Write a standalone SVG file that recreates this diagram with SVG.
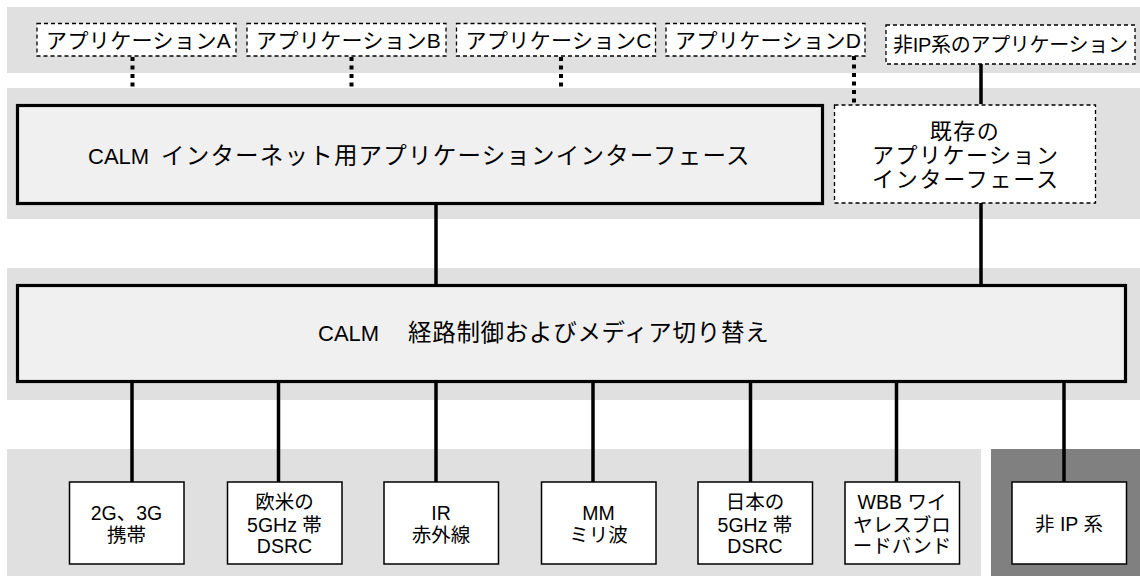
<svg xmlns="http://www.w3.org/2000/svg" width="1140" height="576" viewBox="0 0 1140 576">
<style>
text{font-family:"Liberation Sans","Noto Sans CJK JP",sans-serif;fill:#000}
.band{fill:#e0e0e0}
.dark{fill:#808080}
.app{fill:#fff;stroke:#000;stroke-width:1.3;stroke-dasharray:4 3}
.calm{fill:#f0f0f0;stroke:#000;stroke-width:3.2}
.media{fill:#fff;stroke:#000;stroke-width:1.5}
.solid{stroke:#000;stroke-width:3.5;fill:none}
.dot{stroke:#000;stroke-width:4;stroke-dasharray:4 4.5;fill:none}
.ta{font-size:21px;letter-spacing:0.4px}
.tn{font-size:20px}
.tc{font-size:23.5px}
.lat{font-size:22px}
.tl{font-size:22px}
.tb{font-size:19.5px;text-anchor:middle}
</style>
<g id="bands">
<rect class="band" x="7" y="7" width="1133" height="66"/>
<rect class="band" x="7" y="88" width="1133" height="131"/>
<rect class="band" x="7" y="268" width="1133" height="132"/>
<rect class="band" x="7" y="449" width="974" height="127"/>
<rect class="dark" x="991" y="449" width="149" height="127"/>
</g>
<g id="connectors">
<line class="dot" x1="132.5" y1="57" x2="132.5" y2="88"/>
<line class="dot" x1="351.5" y1="57" x2="351.5" y2="88"/>
<line class="dot" x1="561" y1="57" x2="561" y2="88"/>
<line class="dot" x1="854" y1="56" x2="854" y2="104"/>
<line class="solid" x1="981" y1="64" x2="981" y2="104"/>
<line class="solid" x1="981" y1="203" x2="981" y2="285"/>
<line class="solid" x1="436" y1="205" x2="436" y2="285"/>
<line class="solid" x1="132" y1="382" x2="132" y2="482"/>
<line class="solid" x1="278.5" y1="382" x2="278.5" y2="482"/>
<line class="solid" x1="436" y1="382" x2="436" y2="482"/>
<line class="solid" x1="593" y1="382" x2="593" y2="482"/>
<line class="solid" x1="750.5" y1="382" x2="750.5" y2="482"/>
<line class="solid" x1="896.5" y1="382" x2="896.5" y2="482"/>
<line class="solid" x1="1064" y1="382" x2="1064" y2="482"/>
</g>
<g id="appA"><rect class="app" x="37" y="23.5" width="199" height="32.5"/><text class="ta" x="46" y="48">アプリケーションA</text></g>
<g id="appB"><rect class="app" x="247" y="23.5" width="199" height="32.5"/><text class="ta" x="256" y="48">アプリケーションB</text></g>
<g id="appC"><rect class="app" x="456.5" y="23.5" width="199" height="32.5"/><text class="ta" x="465.5" y="48">アプリケーションC</text></g>
<g id="appD"><rect class="app" x="666" y="23.5" width="199" height="32.5"/><text class="ta" x="675" y="48">アプリケーションD</text></g>
<g id="appNonIP"><rect class="app" x="886" y="25" width="249" height="39"/><text class="tn" x="893" y="52" textLength="235">非IP系のアプリケーション</text></g>
<g id="calmInternet"><rect class="calm" x="17.5" y="105.5" width="805" height="98"/><text x="88" y="164"><tspan class="lat">CALM </tspan><tspan class="tc" x="161" letter-spacing="1.2">インターネット用アプリケーションインターフェース</tspan></text></g>
<g id="legacyIf"><rect class="app" x="834.5" y="105" width="261" height="98"/>
<text class="tl" x="965" y="139" text-anchor="middle" letter-spacing="1.5">既存の</text>
<text class="tl" x="872" y="163" textLength="186">アプリケーション</text>
<text class="tl" x="872" y="187" textLength="186">インターフェース</text></g>
<g id="calmRouting"><rect class="calm" x="17.5" y="285.5" width="1108" height="96"/><text x="318" y="341"><tspan class="lat">CALM</tspan><tspan class="tc" x="408" letter-spacing="0.7">経路制御およびメディア切り替え</tspan></text></g>
<g id="m2g"><rect class="media" x="69.5" y="482" width="114.5" height="82"/><text class="tb" x="126.5" y="520">2G、3G</text><text class="tb" x="126.5" y="542">携帯</text></g>
<g id="mEU"><rect class="media" x="227.5" y="482" width="114.5" height="82"/><text class="tb" x="284.5" y="509">欧米の</text><text class="tb" x="284.5" y="532">5GHz 帯</text><text class="tb" x="284.5" y="553">DSRC</text></g>
<g id="mIR"><rect class="media" x="384" y="482" width="114.5" height="82"/><text class="tb" x="441" y="520">IR</text><text class="tb" x="441" y="542">赤外線</text></g>
<g id="mMM"><rect class="media" x="541.5" y="482" width="114.5" height="82"/><text class="tb" x="598.5" y="520">MM</text><text class="tb" x="598.5" y="542">ミリ波</text></g>
<g id="mJP"><rect class="media" x="698" y="482" width="114.5" height="82"/><text class="tb" x="755" y="509">日本の</text><text class="tb" x="755" y="532">5GHz 帯</text><text class="tb" x="755" y="553">DSRC</text></g>
<g id="mWBB"><rect class="media" x="845" y="482" width="114.5" height="82"/><text class="tb" x="902" y="509">WBB ワイ</text><text class="tb" x="902" y="532">ヤレスブロ</text><text class="tb" x="902" y="553">ードバンド</text></g>
<g id="mNonIP"><rect class="media" x="1012" y="482" width="114.5" height="82"/><text class="tb" x="1069" y="531">非 IP 系</text></g>
</svg>
